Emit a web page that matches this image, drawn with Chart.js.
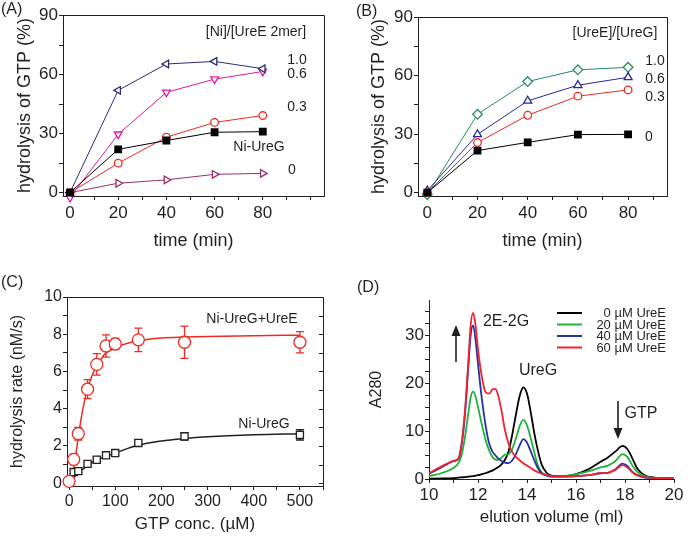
<!DOCTYPE html>
<html>
<head>
<meta charset="utf-8">
<script src="https://cdn.jsdelivr.net/npm/chart.js@4.4.0/dist/chart.umd.min.js"></script>
<style>
  body { margin: 0; background: #fff; width: 688px; height: 539px; position: relative; overflow: hidden; }
  canvas { position: absolute; }
</style>
</head>
<body>
<canvas id="chartA" width="344" height="270" style="left:0;top:0"></canvas>
<canvas id="chartB" width="344" height="270" style="left:344px;top:0"></canvas>
<canvas id="chartC" width="344" height="270" style="left:0;top:270px"></canvas>
<canvas id="chartD" width="344" height="269" style="left:344px;top:270px"></canvas>
<script>
// ---- data ----
// (A) hydrolysis vs time, [Ni]/[UreE 2mer]
var timeMin = [0, 20, 40, 60, 80];
var aRatio10 = [0, 52, 65.4, 66.7, 63];
var aRatio06 = [-2.5, 29.7, 51, 57.7, 61.6];
var aRatio03 = [0, 15, 28.2, 35.7, 39.2];
var aNiUreG = [0, 22, 26.5, 30.7, 31];
var aRatio0 = [0, 4.8, 6.5, 9.3, 9.8];

// (B) hydrolysis vs time, [UreE]/[UreG]
var bRatio10 = [-1, 40.2, 57, 63, 64.3];
var bRatio06 = [1, 29.9, 47.1, 55.1, 59.2];
var bRatio03 = [0, 25.7, 39.7, 49.5, 52.7];
var bRatio0 = [0, 21.6, 25.8, 29.8, 29.9];

var timeTicks = [0, 20, 40, 60, 80];
var percentTicks = [0, 30, 60, 90];

// (C) rate vs GTP concentration
var gtpConc = [0, 10, 20, 40, 60, 80, 100, 150, 250, 500];
var rateUreE = [0.1, 1.28, 2.66, 5.05, 6.38, 7.37, 7.48, 7.7, 7.57, 7.57];
var rateUreEErr = [0.15, 0.3, 0.34, 0.51, 0.58, 0.6, 0.3, 0.63, 0.87, 0.57];
var rateNi = [0.15, 0.6, 0.65, 1.04, 1.26, 1.5, 1.62, 2.16, 2.52, 2.6];
var rateNiErr = [0.1, 0.1, 0.1, 0.12, 0.12, 0.12, 0.12, 0.15, 0.2, 0.28];
var fitUreEConc = [0, 5, 10, 15, 20, 25, 30, 40, 50, 60, 70, 80, 90, 100, 125, 150, 200, 250, 300, 400, 500];
var fitUreERate = [0, 0.2, 0.8, 1.6, 2.5, 3.3, 4.0, 5.1, 5.8, 6.3, 6.7, 7.0, 7.15, 7.3, 7.5, 7.65, 7.8, 7.85, 7.88, 7.92, 7.95];
var fitNiConc = [0, 10, 20, 40, 60, 80, 100, 150, 200, 250, 300, 400, 500];
var fitNiRate = [0, 0.3, 0.55, 0.95, 1.25, 1.45, 1.62, 2.05, 2.27, 2.4, 2.49, 2.6, 2.66];
var concTicks = [0, 100, 200, 300, 400, 500];
var rateTicks = [0, 2, 4, 6, 8, 10];

// (D) elution profiles
var elutionMl = [10, 10.5, 11, 11.2, 11.33, 11.47, 11.6, 11.7, 11.8, 11.9, 12.0, 12.15, 12.3, 12.45, 12.6, 12.7, 12.8, 12.95,
  13.1, 13.25, 13.4, 13.55, 13.7, 13.85, 14.0, 14.15, 14.3, 14.45, 14.6, 14.8, 15.0, 15.5, 16.0, 16.5, 17.0, 17.3, 17.6,
  17.9, 18.1, 18.3, 18.5, 18.8, 19.2, 19.6, 20];
var a280UreE0 = [0.05, 0.1, 0.2, 0.3, 0.35, 0.4, 0.5, 0.55, 0.6, 0.7, 0.8, 1.0, 1.2, 1.5, 1.8, 2.1, 2.4, 3.0,
  4.0, 5.8, 9.3, 13.5, 17.3, 19.1, 17.8, 14, 9.5, 5.8, 3.0, 1.3, 0.7, 0.6, 1.0, 2.0, 3.6, 4.5, 5.7,
  6.9, 6.2, 4.3, 2.2, 0.8, 0.3, 0.1, 0.1];
var a280UreE20 = [0.6, 1.2, 2.3, 3.3, 5, 8.8, 13.5, 17, 18.2, 17.2, 15, 11.5, 8.3, 6.0, 4.5, 4.1, 4.0, 4.4,
  5.1, 5.2, 6.3, 8.5, 11, 12.3, 11.2, 8.5, 5.5, 2.8, 1.4, 0.8, 0.5, 0.6, 1.0, 1.6, 2.4, 2.8, 3.7,
  5.2, 4.6, 2.8, 1.5, 0.6, 0.2, 0.1, 0.1];
var a280UreE40 = [1.1, 2.4, 3.7, 4.2, 7, 13.5, 23, 30, 32, 29, 24, 17, 11.5, 7.5, 5.6, 5.0, 4.4, 3.8,
  3.4, 3.3, 3.9, 5.2, 7.0, 8.3, 7.6, 5.8, 3.9, 2.2, 1.2, 0.7, 0.5, 0.5, 0.6, 0.8, 1.2, 1.3, 2.0,
  3.2, 2.7, 1.5, 0.8, 0.3, 0.2, 0.1, 0.1];
var a280UreE60 = [1.2, 2.6, 3.8, 4.3, 7.5, 14.4, 24, 32, 34.6, 32, 27, 21.5, 18.2, 17.8, 18.7, 18.8, 17.8, 14.5,
  10.2, 7.3, 5.6, 4.6, 3.9, 3.3, 2.8, 2.3, 1.8, 1.4, 1.1, 0.8, 0.6, 0.5, 0.6, 0.8, 1.2, 1.3, 1.9,
  2.9, 2.4, 1.4, 0.8, 0.4, 0.2, 0.1, 0.1];
var elutionTicks = [10, 12, 14, 16, 18, 20];
var a280Ticks = [0, 10, 20, 30];

// ---- helpers ----
var INK = '#231f20';
Chart.defaults.font.family = 'Arial, "Liberation Sans", Helvetica, sans-serif';
Chart.defaults.color = INK;

function range(from, to, step) {
  var out = [];
  for (var v = from; v <= to + 1e-9; v += step) out.push(Math.round(v * 100) / 100);
  return out;
}

function axis(o) {
  return {
    type: 'linear',
    position: o.position,
    min: o.min,
    max: o.max,
    afterBuildTicks: function (s) { s.ticks = o.all.map(function (v) { return { value: v }; }); },
    afterFit: function (s) {
      if (o.position === 'bottom') s.height = o.size; else s.width = o.size;
      s.paddingLeft = s.paddingRight = s.paddingTop = s.paddingBottom = 0;
    },
    ticks: {
      autoSkip: false, maxRotation: 0, padding: o.pad,
      font: { size: o.tickSize },
      callback: function (v) { return o.major.indexOf(v) >= 0 ? String(v) : ''; }
    },
    grid: { drawOnChartArea: false, drawTicks: true, tickLength: 4, tickColor: INK, tickWidth: 1 },
    border: { display: true, color: INK, width: 1 },
    title: { display: true, text: o.title, padding: 0, font: { size: o.titleSize, weight: 'normal' } }
  };
}

function pts(xs, ys) {
  return xs.map(function (x, i) { return { x: x, y: ys[i] }; });
}

function markerSeries(xs, ys, color, style, rot, radius, fill, order) {
  return {
    data: pts(xs, ys),
    borderColor: color,
    borderWidth: 1,
    pointStyle: style,
    pointRotation: rot,
    pointRadius: radius,
    pointBorderWidth: 1.3,
    pointBorderColor: color,
    pointBackgroundColor: fill || '#fff',
    tension: 0,
    clip: false,
    order: order
  };
}

// text, frame, arrows, legend, error bars drawn on top of each chart
var decorPlugin = {
  id: 'decor',
  beforeDatasetsDraw: function (chart, args, opts) {
    if (!opts.errors) return;
    var ctx = chart.ctx;
    var ys = chart.scales.y;
    opts.errors.forEach(function (e) {
      var meta = chart.getDatasetMeta(e.dataset);
      ctx.save();
      ctx.strokeStyle = e.color;
      ctx.lineWidth = 1.3;
      meta.data.forEach(function (p, i) {
        var v = chart.data.datasets[e.dataset].data[i].y;
        var top = ys.getPixelForValue(v + e.values[i]);
        var bot = ys.getPixelForValue(v - e.values[i]);
        ctx.beginPath();
        ctx.moveTo(p.x, top); ctx.lineTo(p.x, bot);
        ctx.moveTo(p.x - 4, top); ctx.lineTo(p.x + 4, top);
        ctx.moveTo(p.x - 4, bot); ctx.lineTo(p.x + 4, bot);
        ctx.stroke();
      });
      ctx.restore();
    });
  },
  afterDraw: function (chart, args, opts) {
    var ctx = chart.ctx;
    var a = chart.chartArea;
    ctx.save();
    ctx.strokeStyle = INK;
    ctx.lineWidth = 1;
    if (opts.frame) {
      ctx.beginPath();
      ctx.moveTo(Math.round(a.left) + 0.5, Math.round(a.top) + 0.5);
      ctx.lineTo(Math.round(a.right) + 0.5, Math.round(a.top) + 0.5);
      ctx.lineTo(Math.round(a.right) + 0.5, Math.round(a.bottom) + 0.5);
      ctx.stroke();
    }
    if (opts.rightTicks) {
      ctx.beginPath();
      opts.rightTicks.forEach(function (v) {
        var y = Math.round(chart.scales.y.getPixelForValue(v)) + 0.5;
        ctx.moveTo(a.right, y); ctx.lineTo(a.right - 4, y);
      });
      ctx.stroke();
    }
    (opts.arrows || []).forEach(function (ar) {
      ctx.fillStyle = INK;
      ctx.lineWidth = 1.6;
      ctx.beginPath();
      ctx.moveTo(ar.x, ar.from);
      ctx.lineTo(ar.x, ar.to);
      ctx.stroke();
      var dir = ar.to < ar.from ? -1 : 1;
      ctx.beginPath();
      ctx.moveTo(ar.x, ar.to + dir * 2);
      ctx.lineTo(ar.x - 4.5, ar.to - dir * 9);
      ctx.lineTo(ar.x + 4.5, ar.to - dir * 9);
      ctx.closePath();
      ctx.fill();
    });
    (opts.legend || []).forEach(function (l) {
      ctx.strokeStyle = l.color;
      ctx.lineWidth = 2;
      ctx.beginPath();
      ctx.moveTo(l.x1, l.y); ctx.lineTo(l.x2, l.y);
      ctx.stroke();
      ctx.fillStyle = INK;
      ctx.font = '13px Arial, "Liberation Sans", sans-serif';
      ctx.textAlign = 'right';
      ctx.textBaseline = 'middle';
      ctx.fillText(l.text, l.tx, l.y + 0.5);
    });
    (opts.texts || []).forEach(function (t) {
      ctx.fillStyle = INK;
      ctx.font = t.size + 'px Arial, "Liberation Sans", sans-serif';
      ctx.textAlign = t.align || 'center';
      ctx.textBaseline = 'middle';
      ctx.fillText(t.text, t.x, t.y);
    });
    ctx.restore();
  }
};

function makeChart(id, datasets, scales, padding, decor) {
  return new Chart(document.getElementById(id), {
    type: 'line',
    data: { datasets: datasets },
    options: {
      responsive: false,
      animation: false,
      devicePixelRatio: 1,
      layout: { padding: padding },
      scales: scales,
      plugins: { legend: { display: false }, tooltip: { enabled: false }, decor: decor }
    },
    plugins: [decorPlugin]
  });
}

// ---- (A) ----
makeChart('chartA', [
  markerSeries(timeMin, aNiUreG, '#000000', 'rect', 0, 4.6, '#000000', 0),
  markerSeries(timeMin, aRatio10, '#2d2d72', 'triangle', 270, 4.4, null, 1),
  markerSeries(timeMin, aRatio06, '#e2189a', 'triangle', 180, 4.4, null, 2),
  markerSeries(timeMin, aRatio03, '#ee2a24', 'circle', 0, 3.8, null, 3),
  markerSeries(timeMin, aRatio0, '#9b2f6b', 'triangle', 90, 4.4, null, 4)
], {
  x: axis({ position: 'bottom', min: -2.9, max: 105.4, all: range(0, 100, 10), major: timeTicks,
    size: 56, pad: 3, tickSize: 17, title: 'time (min)', titleSize: 18 }),
  y: axis({ position: 'left', min: -1.7, max: 90.3, all: range(0, 90, 15), major: percentTicks,
    size: 49, pad: 1, tickSize: 17, title: 'hydrolysis of GTP (%)', titleSize: 18 })
}, { left: 14, right: 20, top: 15, bottom: 18 }, {
  frame: true,
  texts: [
    { text: '(A)', x: 1, y: 10, size: 16, align: 'left' },
    { text: '[Ni]/[UreE 2mer]', x: 256, y: 32, size: 14 },
    { text: '1.0', x: 297, y: 60, size: 14 },
    { text: '0.6', x: 297, y: 74, size: 14 },
    { text: '0.3', x: 297, y: 107, size: 14 },
    { text: 'Ni-UreG', x: 259, y: 147, size: 14 },
    { text: '0', x: 292, y: 170, size: 14 }
  ]
});

// ---- (B) ----
makeChart('chartB', [
  markerSeries(timeMin, bRatio0, '#000000', 'rect', 0, 4.6, '#000000', 0),
  markerSeries(timeMin, bRatio03, '#ee2a24', 'circle', 0, 3.8, null, 1),
  markerSeries(timeMin, bRatio06, '#27279a', 'triangle', 0, 4.6, null, 2),
  markerSeries(timeMin, bRatio10, '#2a8a5c', 'rectRot', 0, 4.8, null, 3)
], {
  x: axis({ position: 'bottom', min: -3.7, max: 95.5, all: range(0, 90, 10), major: timeTicks,
    size: 56, pad: 3, tickSize: 17, title: 'time (min)', titleSize: 18 }),
  y: axis({ position: 'left', min: -1.7, max: 90.1, all: range(0, 90, 15), major: percentTicks,
    size: 50, pad: 1, tickSize: 17, title: 'hydrolysis of GTP (%)', titleSize: 18 })
}, { left: 24, right: 21, top: 17, bottom: 18 }, {
  frame: true,
  texts: [
    { text: '(B)', x: 12, y: 12, size: 16, align: 'left' },
    { text: '[UreE]/[UreG]', x: 271, y: 33, size: 14 },
    { text: '1.0', x: 311, y: 61, size: 14 },
    { text: '0.6', x: 311, y: 79, size: 14 },
    { text: '0.3', x: 311, y: 97, size: 14 },
    { text: '0', x: 305, y: 137, size: 14 }
  ]
});

// ---- (C) ----
var fitStyle = function (xs, ys, color, order) {
  return {
    data: pts(xs, ys), borderColor: color, borderWidth: 1.5, pointRadius: 0,
    cubicInterpolationMode: 'monotone', order: order
  };
};
makeChart('chartC', [
  markerSeries(gtpConc, rateUreE, '#ee2a24', 'circle', 0, 6, null, 0),
  markerSeries(gtpConc, rateNi, '#231f20', 'rect', 0, 5, null, 1),
  fitStyle(fitUreEConc, fitUreERate, '#ee2a24', 2),
  fitStyle(fitNiConc, fitNiRate, '#231f20', 3)
].map(function (d, i) { if (i < 2) d.showLine = false; return d; }), {
  x: axis({ position: 'bottom', min: -4.5, max: 550, all: range(0, 550, 50), major: concTicks,
    size: 49, pad: 2, tickSize: 16, title: 'GTP conc. (\u00b5M)', titleSize: 17 }),
  y: axis({ position: 'left', min: -0.15, max: 10, all: range(0, 10, 1), major: rateTicks,
    size: 59, pad: 1, tickSize: 16, title: 'hydrolysis rate (nM/s)', titleSize: 16 })
}, { left: 8, right: 21, top: 27, bottom: 5 }, {
  frame: true,
  rightTicks: range(0, 10, 1),
  errors: [
    { dataset: 0, values: rateUreEErr, color: '#ee2a24' },
    { dataset: 1, values: rateNiErr, color: '#231f20' }
  ],
  texts: [
    { text: '(C)', x: 1, y: 13, size: 16, align: 'left' },
    { text: 'Ni-UreG+UreE', x: 252, y: 49, size: 14 },
    { text: 'Ni-UreG', x: 264, y: 154, size: 14 }
  ]
});

// ---- (D) ----
var traceStyle = function (ys, color, order) {
  return {
    data: pts(elutionMl, ys), borderColor: color, borderWidth: 1.8, pointRadius: 0,
    cubicInterpolationMode: 'monotone', order: order
  };
};
makeChart('chartD', [
  traceStyle(a280UreE60, '#ee2230', 0),
  traceStyle(a280UreE40, '#2433a0', 1),
  traceStyle(a280UreE20, '#22b03c', 2),
  traceStyle(a280UreE0, '#000000', 3)
], {
  x: axis({ position: 'bottom', min: 10, max: 20, all: range(10, 20, 1), major: elutionTicks,
    size: 49, pad: 2, tickSize: 17, title: 'elution volume (ml)', titleSize: 17 }),
  y: axis({ position: 'left', min: 0, max: 37.3, all: range(0, 35, 2.5), major: a280Ticks,
    size: 62, pad: 1, tickSize: 17, title: 'A280', titleSize: 16 })
}, { left: 23, right: 14, top: 30, bottom: 11 }, {
  arrows: [
    { x: 112, from: 92, to: 57 },
    { x: 274, from: 131, to: 167 }
  ],
  legend: [
    { text: '0 \u00b5M UreE', color: '#000000', x1: 213, x2: 238, y: 43, tx: 322 },
    { text: '20 \u00b5M UreE', color: '#22b03c', x1: 213, x2: 238, y: 54.5, tx: 322 },
    { text: '40 \u00b5M UreE', color: '#2433a0', x1: 213, x2: 238, y: 66, tx: 322 },
    { text: '60 \u00b5M UreE', color: '#ee2230', x1: 213, x2: 238, y: 77.5, tx: 322 }
  ],
  texts: [
    { text: '(D)', x: 13, y: 18, size: 16, align: 'left' },
    { text: '2E-2G', x: 162, y: 52, size: 16 },
    { text: 'UreG', x: 194, y: 101, size: 16 },
    { text: 'GTP', x: 297, y: 144, size: 16 }
  ]
});
</script>
</body>
</html>
